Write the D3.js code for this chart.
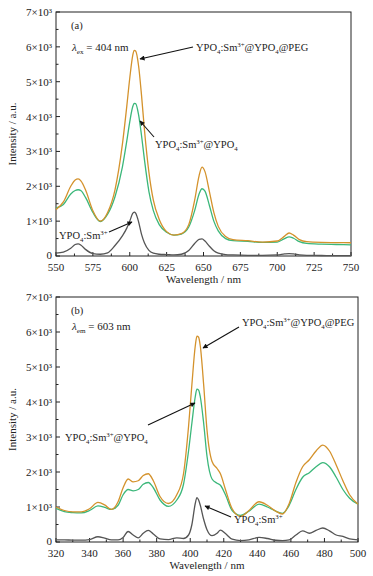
<!DOCTYPE html>
<html>
<head>
<meta charset="utf-8">
<script src="https://cdn.jsdelivr.net/npm/d3@7"></script>
<style>
  body { margin: 0; background: #fff; }
  svg text { font-family: "Liberation Serif", "DejaVu Serif", serif; fill: #222; }
</style>
</head>
<body>
<div id="chart"></div>
<script>
// panel (a): emission, excitation 404 nm
const wlA = [550, 555, 560, 563, 565, 567, 570, 575, 580, 585, 590, 595, 598, 600, 602, 603, 604, 606, 608, 610,
  613, 616, 620, 625, 630, 635, 640, 644, 647, 649, 651, 654, 657, 660, 665, 670, 680, 690, 700, 705,
  708, 711, 715, 720, 730, 740, 750];
const pegA = [1330, 1550, 2000, 2180, 2210, 2150, 1900, 1300, 1000, 1250, 1900, 3200, 4300, 5100, 5750, 5900, 5880, 5450, 4600, 3600,
  2400, 1600, 1050, 700, 600, 640, 900, 1600, 2300, 2550, 2420, 1850, 1250, 850, 560, 470, 440, 400, 430, 570,
  660, 600, 470, 410, 390, 385, 380];
const coreShellA = [1380, 1480, 1780, 1880, 1900, 1870, 1680, 1250, 990, 1200, 1700, 2550, 3300, 3850, 4280, 4380, 4370, 4050, 3450, 2750,
  1850, 1300, 900, 680, 600, 630, 830, 1300, 1780, 1930, 1860, 1450, 1000, 720, 500, 440, 420, 390, 400, 500,
  550, 510, 410, 360, 340, 330, 320];
const coreA = [80, 110, 220, 330, 350, 310, 190, 70, 50, 90, 300, 580, 800, 1000, 1220, 1260, 1230, 980, 620, 370,
  160, 80, 50, 40, 30, 50, 160, 360, 480, 490, 430, 280, 150, 80, 40, 30, 20, 20, 30, 60,
  70, 60, 35, 20, 15, 10, 10];

// panel (b): excitation, monitored at 603 nm
const wlB = [320, 325, 330, 335, 340, 345, 349, 353, 357, 360, 363, 366, 369, 372, 375, 378, 382, 387, 392, 396,
  399, 401, 403, 404, 405, 406, 408, 410, 413, 416, 418, 421, 425, 430, 435, 441, 446, 451, 455, 459,
  463, 467, 471, 475, 479, 483, 487, 491, 495, 500];
const pegB = [1000, 900, 860, 860, 950, 1130, 1060, 930, 1150, 1550, 1800, 1720, 1750, 1900, 1950, 1750, 1300, 1100, 1350, 1950,
  3300, 4500, 5600, 5880, 5850, 5600, 4500, 3200, 2300, 2100, 1950, 1500, 950, 730, 900, 1150, 1050, 880, 800, 1100,
  1700, 2150, 2350, 2600, 2770, 2600, 2200, 1750, 1350, 1080];
const coreShellB = [960, 870, 840, 830, 900, 1030, 990, 930, 1050, 1350, 1500, 1460, 1500, 1650, 1700, 1550, 1200, 1020, 1200, 1650,
  2600, 3400, 4150, 4370, 4340, 4150, 3400, 2450, 1800, 1680, 1620, 1350, 900, 760, 880, 1080, 1000, 880, 820, 1050,
  1500, 1850, 1980, 2150, 2270, 2150, 1850, 1500, 1250, 1080];
const coreB = [60, 60, 55, 55, 70, 150, 110, 60, 60, 130, 300, 200, 120, 250, 330, 230, 90, 70, 120, 100,
  200, 500, 1100, 1270, 1200, 1050, 650, 350, 180, 250, 340, 240, 80, 40, 60, 130, 100, 50, 40, 60,
  200, 320, 250, 330, 400, 320, 200, 160, 90, 60];

const yTicks = [0, 1000, 2000, 3000, 4000, 5000, 6000, 7000];
const xTicksA = [550, 575, 600, 625, 650, 675, 700, 725, 750];
const xTicksB = [320, 340, 360, 380, 400, 420, 440, 460, 480, 500];

const colors = { peg: "#d4922c", coreShell: "#3bb77a", core: "#555555" };

const width = 373, height = 576;
const svg = d3.select("#chart").append("svg")
  .attr("width", width)
  .attr("height", height);

svg.append("defs").append("marker")
  .attr("id", "arrow")
  .attr("viewBox", "0 0 10 10")
  .attr("refX", 9).attr("refY", 5)
  .attr("markerWidth", 7).attr("markerHeight", 5)
  .attr("markerUnits", "userSpaceOnUse")
  .attr("orient", "auto")
  .append("path")
  .attr("d", "M0,0L10,5L0,10Z")
  .attr("fill", "#111");

const fmtY = d => d === 0 ? "0" : `${d / 1000}×10³`;

// label like YPO4:Sm3+@YPO4 with sub/superscripts, parts = [[text, kind]]
function richText(g, x, y, parts, size) {
  const t = g.append("text").attr("x", x).attr("y", y).attr("font-size", size);
  let shift = 0;
  parts.forEach(([s, kind]) => {
    const sp = t.append("tspan").text(s);
    let target = 0;
    if (kind === "sub") { target = 2.5; sp.attr("font-size", size * 0.65); }
    if (kind === "sup") { target = -4; sp.attr("font-size", size * 0.65); }
    if (kind === "it") sp.attr("font-style", "italic");
    if (target !== shift) { sp.attr("dy", target - shift); shift = target; }
  });
  return t;
}

const pegLabel = [["YPO"], ["4", "sub"], [":Sm"], ["3+", "sup"], ["@YPO"], ["4", "sub"], ["@PEG"]];
const csLabel = [["YPO"], ["4", "sub"], [":Sm"], ["3+", "sup"], ["@YPO"], ["4", "sub"]];
const coreLabel = [["YPO"], ["4", "sub"], [":Sm"], ["3+", "sup"]];

function drawPanel(opts) {
  const { left, right, top, bottom, xDomain, xTicks, xMinor, wl, series, tag, lambda, notes } = opts;
  const g = svg.append("g");
  const x = d3.scaleLinear().domain(xDomain).range([left, right]);
  const y = d3.scaleLinear().domain([0, 7000]).range([bottom, top]);

  // frame
  g.append("rect")
    .attr("x", left).attr("y", top)
    .attr("width", right - left).attr("height", bottom - top)
    .attr("fill", "none").attr("stroke", "#222").attr("stroke-width", 1);

  // inward ticks
  const minorY = d3.range(500, 7000, 1000);
  g.selectAll(".ytick").data(yTicks).join("line")
    .attr("x1", left).attr("x2", left + 4)
    .attr("y1", d => y(d)).attr("y2", d => y(d))
    .attr("stroke", "#222");
  g.selectAll(".yminor").data(minorY).join("line")
    .attr("x1", left).attr("x2", left + 2.5)
    .attr("y1", d => y(d)).attr("y2", d => y(d))
    .attr("stroke", "#222");
  g.selectAll(".xtick").data(xTicks).join("line")
    .attr("x1", d => x(d)).attr("x2", d => x(d))
    .attr("y1", bottom).attr("y2", bottom - 4)
    .attr("stroke", "#222");
  g.selectAll(".xminor").data(xMinor).join("line")
    .attr("x1", d => x(d)).attr("x2", d => x(d))
    .attr("y1", bottom).attr("y2", bottom - 2.5)
    .attr("stroke", "#222");

  g.selectAll(".ylab").data(yTicks).join("text")
    .attr("x", left - 4).attr("y", d => y(d) + (d === 0 ? 2.5 : 4))
    .attr("text-anchor", "end").attr("font-size", 11)
    .text(fmtY);
  g.selectAll(".xlab").data(xTicks).join("text")
    .attr("x", d => x(d)).attr("y", bottom + 15)
    .attr("text-anchor", "middle").attr("font-size", 11)
    .text(d => d);

  g.append("text")
    .attr("x", (left + right) / 2).attr("y", bottom + 27)
    .attr("text-anchor", "middle").attr("font-size", 11)
    .text("Wavelength / nm");
  g.append("text")
    .attr("transform", `translate(16,${(top + bottom) / 2}) rotate(-90)`)
    .attr("text-anchor", "middle").attr("font-size", 11)
    .text("Intensity / a.u.");

  // spectra
  const line = d3.line()
    .x((d, i) => x(wl[i]))
    .y(d => y(d))
    .curve(d3.curveMonotoneX);
  series.forEach(s => {
    g.append("path")
      .attr("d", line(s.values))
      .attr("fill", "none")
      .attr("stroke", s.color)
      .attr("stroke-width", 1.3);
  });

  g.append("text").attr("x", left + 15).attr("y", top + 17).attr("font-size", 10.5).text(tag);
  richText(g, left + 16, lambda.y, [["λ", "it"], [lambda.sub, "sub"], [" = " + lambda.val, ""]], 11);

  notes.forEach(n => {
    richText(g, n.tx, n.ty, n.label, 10.5);
    g.append("line")
      .attr("x1", n.from[0]).attr("y1", n.from[1])
      .attr("x2", n.to[0]).attr("y2", n.to[1])
      .attr("stroke", "#111").attr("stroke-width", 1.1)
      .attr("marker-end", "url(#arrow)");
  });
}

drawPanel({
  left: 56, right: 351, top: 12, bottom: 256,
  xDomain: [550, 750], xTicks: xTicksA, xMinor: d3.range(562.5, 750, 25), wl: wlA,
  series: [
    { values: coreA, color: colors.core },
    { values: coreShellA, color: colors.coreShell },
    { values: pegA, color: colors.peg }
  ],
  tag: "(a)",
  lambda: { y: 51, sub: "ex", val: "404 nm" },
  notes: [
    { label: pegLabel, tx: 196, ty: 51, from: [193, 47], to: [140, 59] },
    { label: csLabel, tx: 155, ty: 148, from: [154, 137], to: [140, 121] },
    { label: coreLabel, tx: 59, ty: 239, from: [109, 232], to: [132, 222] }
  ]
});

drawPanel({
  left: 56, right: 358, top: 297, bottom: 542,
  xDomain: [320, 500], xTicks: xTicksB, xMinor: d3.range(330, 500, 20), wl: wlB,
  series: [
    { values: coreB, color: colors.core },
    { values: coreShellB, color: colors.coreShell },
    { values: pegB, color: colors.peg }
  ],
  tag: "(b)",
  lambda: { y: 330, sub: "em", val: "603 nm" },
  notes: [
    { label: pegLabel, tx: 242, ty: 326, from: [239, 327], to: [203, 348] },
    { label: csLabel, tx: 65, ty: 441, from: [148, 425], to: [195, 403] },
    { label: coreLabel, tx: 234, ty: 523, from: [231, 517], to: [205, 506] }
  ]
});
</script>
</body>
</html>
